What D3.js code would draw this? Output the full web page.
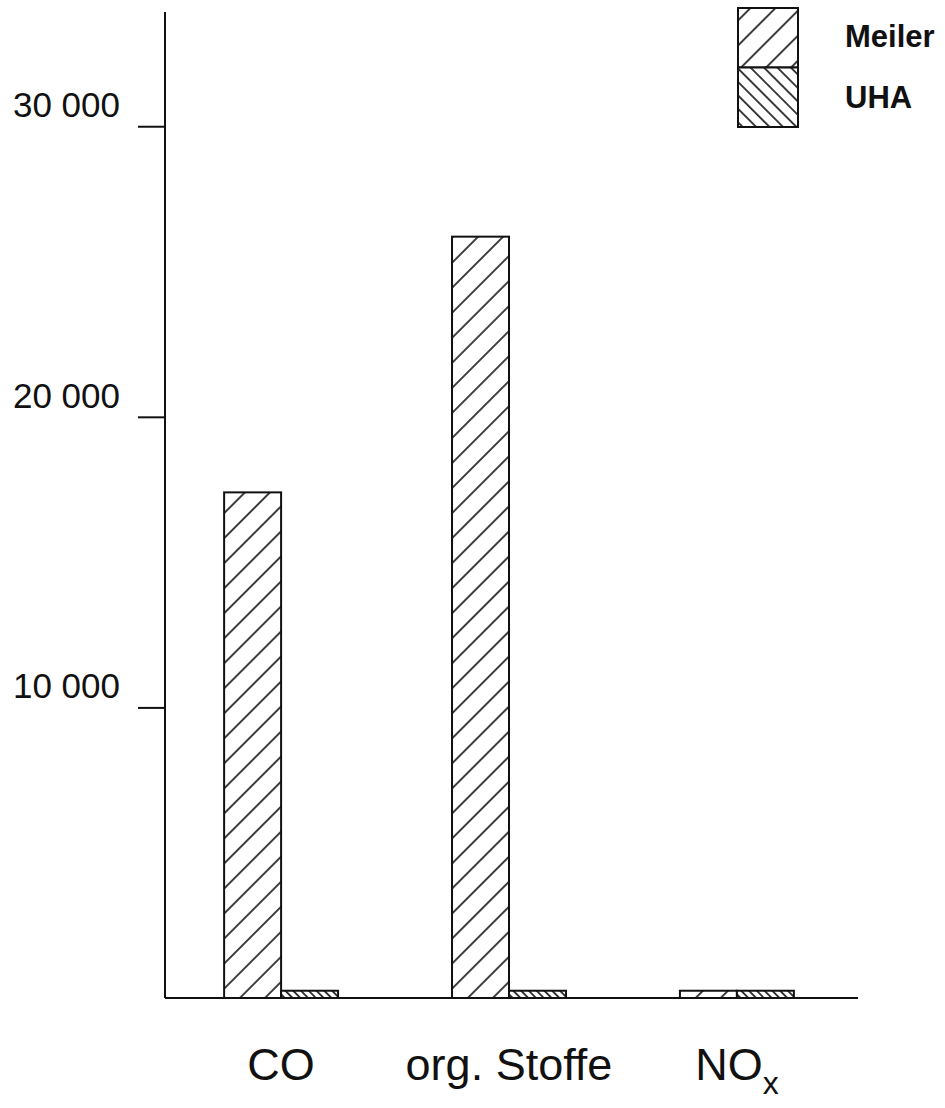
<!DOCTYPE html>
<html>
<head>
<meta charset="utf-8">
<script src="https://cdn.jsdelivr.net/npm/d3@7"></script>
<style>
  body { margin: 0; background: #fff; }
  svg text { font-family: "Liberation Sans", Arial, sans-serif; fill: #111; }
</style>
</head>
<body>
<div id="chart"></div>
<script>
// values
const categories = ["CO", "org. Stoffe", "NOx"];
const seriesNames = ["Meiler", "UHA"];
const meilerValues = [17400, 26200, 250];
const uhaValues = [250, 250, 250];
const tickValues = [10000, 20000, 30000];

const width = 945, height = 1108;

const svg = d3.select("#chart").append("svg")
  .attr("width", width)
  .attr("height", height);

// hatch patterns
const defs = svg.append("defs");
function hatch(id, size, angle) {
  let p = defs.append("pattern")
    .attr("id", id)
    .attr("patternUnits", "userSpaceOnUse")
    .attr("width", size)
    .attr("height", size)
    .attr("patternTransform", "rotate(" + angle + ")");
  p.append("rect").attr("width", size).attr("height", size).attr("fill", "#fff");
  p.append("line")
    .attr("x1", size / 2).attr("x2", size / 2)
    .attr("y1", 0).attr("y2", size)
    .attr("stroke", "#111")
    .attr("stroke-width", 1.6);
}
hatch("hatchMeiler", 17.7, 45);
hatch("hatchUha", 5.5, -45);
hatch("hatchUhaLegend", 9.5, -45);

let y = d3.scaleLinear().domain([0, 34000]).range([998, 10]);

let x0 = d3.scaleBand()
  .domain(categories)
  .range([166, 852])
  .paddingInner(0.5)
  .paddingOuter(0.255);

let x1 = d3.scaleBand()
  .domain(seriesNames)
  .range([0, x0.bandwidth()]);

// y axis
let fmt = d3.formatLocale({ decimal: ",", thousands: " ", grouping: [3], currency: ["", ""] }).format(",d");
let yAxis = d3.axisLeft(y)
  .tickValues(tickValues)
  .tickSize(27)
  .tickPadding(18)
  .tickFormat(fmt);

let gy = svg.append("g")
  .attr("transform", "translate(165,0)")
  .call(yAxis);
gy.select(".domain").remove();
gy.selectAll(".tick line").attr("stroke", "#111").attr("stroke-width", 2);
gy.selectAll(".tick text")
  .style("font-size", "35px")
  .attr("dy", "-0.27em")
  .attr("fill", "#111");

svg.append("line")
  .attr("x1", 165).attr("x2", 165)
  .attr("y1", 12).attr("y2", y(0))
  .attr("stroke", "#111").attr("stroke-width", 2);

// bars
let rows = categories.map((c, i) => ({ cat: c, values: [
  { name: "Meiler", value: meilerValues[i] },
  { name: "UHA", value: uhaValues[i] }
]}));

let groups = svg.selectAll(".grp")
  .data(rows)
  .enter().append("g")
  .attr("class", "grp")
  .attr("transform", d => "translate(" + x0(d.cat) + ",0)");

groups.selectAll("rect")
  .data(d => d.values)
  .enter().append("rect")
  .attr("x", d => x1(d.name))
  .attr("y", d => y(d.value))
  .attr("width", x1.bandwidth())
  .attr("height", d => y(0) - y(d.value))
  .attr("fill", d => d.name == "Meiler" ? "url(#hatchMeiler)" : "url(#hatchUha)")
  .attr("stroke", "#111")
  .attr("stroke-width", 2);

// x axis line
svg.append("line")
  .attr("x1", 165).attr("x2", 858)
  .attr("y1", y(0)).attr("y2", y(0))
  .attr("stroke", "#111").attr("stroke-width", 2.2);

// category labels
let labels = svg.selectAll(".cat")
  .data(categories)
  .enter().append("text")
  .attr("class", "cat")
  .attr("x", d => x0(d) + x0.bandwidth() / 2)
  .attr("y", 1080)
  .attr("text-anchor", "middle")
  .style("font-size", "45px");

labels.each(function(d) {
  let t = d3.select(this);
  if (d == "NOx") {
    t.append("tspan").text("NO");
    t.append("tspan").text("x").style("font-size", "32px").attr("dy", 14);
  } else {
    t.text(d);
  }
});

// legend
let legend = svg.append("g").attr("transform", "translate(738,8)");
seriesNames.forEach((s, i) => {
  legend.append("rect")
    .attr("x", 0)
    .attr("y", i * 59.5)
    .attr("width", 60)
    .attr("height", 59.5)
    .attr("fill", i == 0 ? "url(#hatchMeiler)" : "url(#hatchUhaLegend)")
    .attr("stroke", "#111")
    .attr("stroke-width", 2);
  legend.append("text")
    .attr("x", 107)
    .attr("y", 39 + i * 61)
    .style("font-size", "31px")
    .style("font-weight", "bold")
    .text(s);
});
</script>
</body>
</html>
